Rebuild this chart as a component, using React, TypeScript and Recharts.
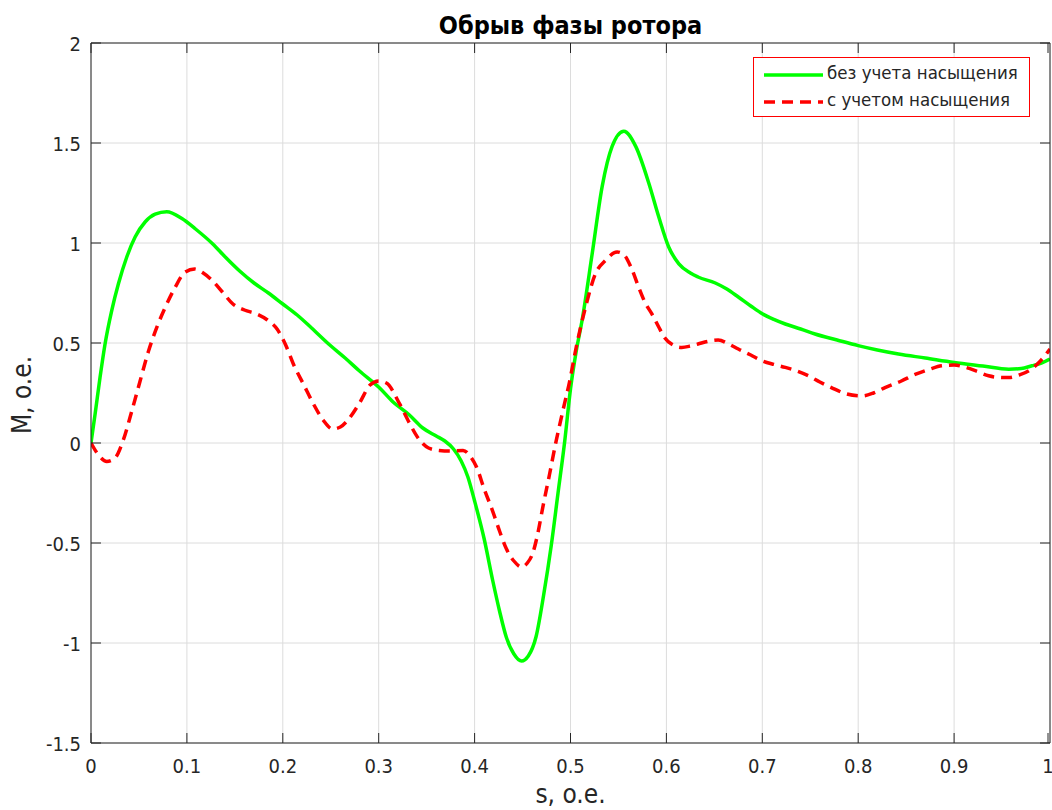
import React from 'react';
import { LineChart, Line, XAxis, YAxis, CartesianGrid, Legend } from 'recharts';

// s, o.e. / M, o.e. for each curve
const sGreen = [0, 0.0042, 0.0094, 0.0146, 0.0216, 0.0286, 0.0373, 0.046, 0.0564, 0.0669, 0.079, 0.0948, 0.109, 0.127, 0.14, 0.155, 0.17, 0.185, 0.2, 0.215, 0.23, 0.249, 0.265, 0.28, 0.301, 0.315, 0.332, 0.346, 0.36, 0.369, 0.378, 0.386, 0.393, 0.4, 0.41, 0.419, 0.426, 0.433, 0.441, 0.449, 0.456, 0.464, 0.472, 0.48, 0.487, 0.494, 0.5, 0.506, 0.512, 0.5226, 0.533, 0.5434, 0.5556, 0.568, 0.5816, 0.592, 0.6024, 0.613, 0.625, 0.633, 0.651, 0.663, 0.675, 0.688, 0.7, 0.712, 0.724, 0.74, 0.755, 0.778, 0.8, 0.82, 0.842, 0.87, 0.9, 0.93, 0.957, 0.97, 0.981, 0.991, 1.0];
const mGreen = [0, 0.142, 0.327, 0.494, 0.662, 0.796, 0.93, 1.03, 1.105, 1.144, 1.156, 1.122, 1.07, 0.995, 0.93, 0.86, 0.8, 0.75, 0.695, 0.64, 0.575, 0.49, 0.425, 0.36, 0.275, 0.205, 0.14, 0.075, 0.035, 0.01, -0.03, -0.09, -0.17, -0.29, -0.48, -0.69, -0.84, -0.97, -1.055, -1.09, -1.065, -0.97, -0.76, -0.51, -0.25, 0.01, 0.27, 0.46, 0.611, 0.946, 1.282, 1.483, 1.559, 1.483, 1.3, 1.131, 0.98, 0.896, 0.85, 0.83, 0.8, 0.77, 0.73, 0.685, 0.646, 0.618, 0.595, 0.57, 0.545, 0.515, 0.487, 0.465, 0.445, 0.425, 0.403, 0.385, 0.369, 0.372, 0.386, 0.4, 0.42];

const sRed = [0, 0.0077, 0.0164, 0.025, 0.0338, 0.0425, 0.0512, 0.06, 0.0686, 0.0774, 0.0878, 0.098, 0.108, 0.117, 0.127, 0.137, 0.148, 0.16, 0.173, 0.184, 0.194, 0.203, 0.211, 0.222, 0.232, 0.242, 0.252, 0.26, 0.267, 0.28, 0.291, 0.3, 0.308, 0.322, 0.332, 0.342, 0.352, 0.363, 0.375, 0.388, 0.396, 0.402, 0.41, 0.419, 0.426, 0.433, 0.441, 0.449, 0.455, 0.461, 0.466, 0.471, 0.478, 0.485, 0.492, 0.499, 0.506, 0.5156, 0.526, 0.5365, 0.5486, 0.556, 0.563, 0.571, 0.578, 0.585, 0.592, 0.598, 0.607, 0.616, 0.625, 0.633, 0.643, 0.654, 0.665, 0.675, 0.688, 0.7, 0.712, 0.724, 0.736, 0.748, 0.76, 0.772, 0.788, 0.804, 0.816, 0.828, 0.845, 0.86, 0.874, 0.887, 0.9, 0.912, 0.924, 0.936, 0.947, 0.957, 0.968, 0.978, 0.99, 1.0];
const mRed = [0, -0.059, -0.092, -0.075, 0.017, 0.159, 0.31, 0.46, 0.578, 0.678, 0.779, 0.854, 0.87, 0.85, 0.81, 0.755, 0.695, 0.665, 0.645, 0.615, 0.57, 0.49, 0.395, 0.29, 0.195, 0.115, 0.07, 0.08, 0.11, 0.2, 0.29, 0.31, 0.3, 0.194, 0.1, 0.019, -0.025, -0.037, -0.04, -0.037, -0.07, -0.12, -0.23, -0.343, -0.44, -0.528, -0.59, -0.62, -0.6, -0.546, -0.45, -0.324, -0.16, 0.009, 0.16, 0.306, 0.48, 0.678, 0.846, 0.913, 0.955, 0.94, 0.88, 0.78, 0.7, 0.644, 0.58, 0.528, 0.49, 0.478, 0.485, 0.495, 0.508, 0.515, 0.495, 0.47, 0.44, 0.411, 0.393, 0.378, 0.36, 0.336, 0.305, 0.277, 0.245, 0.235, 0.25, 0.277, 0.31, 0.344, 0.368, 0.386, 0.39, 0.378, 0.358, 0.336, 0.328, 0.327, 0.34, 0.361, 0.41, 0.47];

const xTicks = [0, 0.1, 0.2, 0.3, 0.4, 0.5, 0.6, 0.7, 0.8, 0.9, 1];
const yTicks = [-1.5, -1, -0.5, 0, 0.5, 1, 1.5, 2];

const seriesNames = ['без учета насыщения', 'с учетом насыщения'];
const title = 'Обрыв фазы ротора';
const xLabel = 's, o.e.';
const yLabel = 'M, o.e.';

const greenData = sGreen.map((s, i) => ({ s, m: mGreen[i] }));
const redData = sRed.map((s, i) => ({ s, m: mRed[i] }));

const FONT = "'DejaVu Sans Condensed', 'DejaVu Sans', sans-serif";
const AXIS = '#262626';
const TICK_LEN = 10;

const BottomTick = (props: any) => {
  const { x, y, payload } = props;
  return (
    <g>
      <line x1={x} y1={y} x2={x} y2={y - TICK_LEN} stroke={AXIS} strokeWidth={1} />
      <text x={x} y={y + 30} textAnchor="middle" fill={AXIS} fontSize={20} fontFamily={FONT}>
        {payload.value}
      </text>
    </g>
  );
};

const TopTick = (props: any) => {
  const { x, y } = props;
  return <line x1={x} y1={y} x2={x} y2={y + TICK_LEN} stroke={AXIS} strokeWidth={1} />;
};

const LeftTick = (props: any) => {
  const { x, y, payload } = props;
  return (
    <g>
      <line x1={x} y1={y} x2={x + TICK_LEN} y2={y} stroke={AXIS} strokeWidth={1} />
      <text x={x - 10} y={y + 8} textAnchor="end" fill={AXIS} fontSize={20} fontFamily={FONT}>
        {payload.value}
      </text>
    </g>
  );
};

const RightTick = (props: any) => {
  const { x, y } = props;
  return <line x1={x} y1={y} x2={x - TICK_LEN} y2={y} stroke={AXIS} strokeWidth={1} />;
};

const LegendBox = () => (
  <div
    style={{
      border: '1px solid #ff0000',
      background: '#fff',
      width: 277,
      height: 60,
      boxSizing: 'border-box',
      fontFamily: FONT,
      fontSize: 18.5,
      color: '#262626',
      position: 'relative',
    }}
  >
    <svg width={72} height={60} style={{ position: 'absolute', left: 0, top: 0 }}>
      <line x1={10} y1={17} x2={69} y2={17} stroke="#00ff00" strokeWidth={3.5} />
      <line x1={10} y1={44} x2={69} y2={44} stroke="#ff0000" strokeWidth={3.5} strokeDasharray="11 7" />
    </svg>
    <div style={{ position: 'absolute', left: 73, top: 4, whiteSpace: 'nowrap' }}>{seriesNames[0]}</div>
    <div style={{ position: 'absolute', left: 73, top: 31, whiteSpace: 'nowrap' }}>{seriesNames[1]}</div>
  </div>
);

export default function App() {
  return (
    <div style={{ position: 'absolute', left: 0, top: 0, width: 1052, height: 810, background: '#fff', overflow: 'hidden' }}>
      <div
        style={{
          position: 'absolute',
          left: 91,
          width: 959,
          top: 11,
          textAlign: 'center',
          fontFamily: FONT,
          fontWeight: 'bold',
          fontSize: 25,
          color: '#000',
        }}
      >
        {title}
      </div>
      <div
        style={{
          position: 'absolute',
          left: 91,
          width: 959,
          top: 779,
          textAlign: 'center',
          fontFamily: FONT,
          fontSize: 26,
          color: AXIS,
        }}
      >
        {xLabel}
      </div>
      <div
        style={{
          position: 'absolute',
          left: 22,
          top: 395,
          transform: 'translate(-50%, -50%) rotate(-90deg)',
          fontFamily: FONT,
          fontSize: 26,
          color: AXIS,
          whiteSpace: 'nowrap',
        }}
      >
        {yLabel}
      </div>
      <LineChart width={1052} height={810} margin={{ top: 42, right: 1, bottom: 37, left: 50 }}>
        <CartesianGrid stroke="#dcdcdc" strokeWidth={1} />
        <XAxis
          xAxisId={0}
          type="number"
          dataKey="s"
          domain={[0, 1]}
          ticks={xTicks}
          height={30}
          tickSize={0}
          tickMargin={0}
          stroke={AXIS}
          tick={<BottomTick />}
          tickLine={false}
          allowDataOverflow
        />
        <XAxis
          xAxisId="top"
          orientation="top"
          type="number"
          dataKey="s"
          domain={[0, 1]}
          ticks={xTicks}
          height={1}
          tickSize={0}
          tickMargin={0}
          stroke={AXIS}
          tick={<TopTick />}
          tickLine={false}
          allowDataOverflow
        />
        <YAxis
          yAxisId={0}
          type="number"
          domain={[-1.5, 2]}
          ticks={yTicks}
          width={41}
          tickSize={0}
          tickMargin={0}
          stroke={AXIS}
          tick={<LeftTick />}
          tickLine={false}
          allowDataOverflow
        />
        <YAxis
          yAxisId="right"
          orientation="right"
          type="number"
          domain={[-1.5, 2]}
          ticks={yTicks}
          width={1}
          tickSize={0}
          tickMargin={0}
          stroke={AXIS}
          tick={<RightTick />}
          tickLine={false}
          allowDataOverflow
        />
        <Legend
          layout="horizontal"
          verticalAlign="middle"
          align="center"
          content={<LegendBox />}
          wrapperStyle={{ position: 'absolute', left: 753, top: 57, width: 'auto', bottom: 'auto', right: 'auto' }}
        />
        <Line
          data={greenData}
          dataKey="m"
          name={seriesNames[0]}
          type="monotone"
          stroke="#00ff00"
          strokeWidth={3.5}
          dot={false}
          isAnimationActive={false}
        />
        <Line
          data={redData}
          dataKey="m"
          name={seriesNames[1]}
          type="monotone"
          stroke="#ff0000"
          strokeWidth={3.5}
          strokeDasharray="11 7"
          dot={false}
          isAnimationActive={false}
        />
      </LineChart>
    </div>
  );
}
